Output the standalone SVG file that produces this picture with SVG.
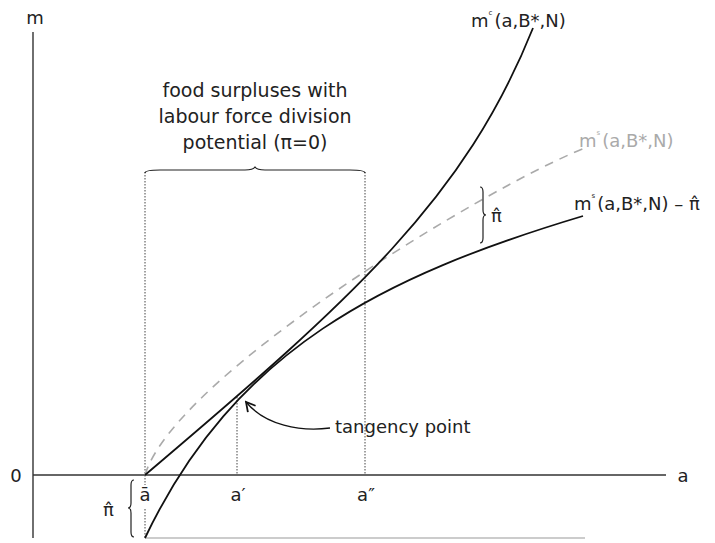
<svg xmlns="http://www.w3.org/2000/svg" width="715" height="543" viewBox="0 0 715 543">
<style>
text{font-family:"DejaVu Sans","Liberation Sans",Arial,sans-serif;fill:#222;}
.lbl{font-size:18px;}
.big{font-size:19px;}
.ax{stroke:#333;stroke-width:1.4;fill:none;}
.dot{stroke:#444;stroke-width:1;stroke-dasharray:1.5 1.5;fill:none;}
.cur{stroke:#111;stroke-width:1.8;fill:none;}
.dsh{stroke:#aaa;stroke-width:1.6;stroke-dasharray:9 7;fill:none;}
.br{stroke:#222;stroke-width:1.2;fill:none;}
.sup{font-size:7px;}
</style>
<defs>
<marker id="ah" markerWidth="12" markerHeight="12" refX="10" refY="6" orient="auto" markerUnits="userSpaceOnUse">
<path d="M1,1 L10,6 L1,11" fill="none" stroke="#111" stroke-width="1.8"/>
</marker>
</defs>
<g id="axes">
<line class="ax" x1="33" y1="32" x2="33" y2="538"/>
<line class="ax" x1="33" y1="475" x2="666" y2="475"/>
<line x1="145" y1="538" x2="585" y2="538" stroke="#bbb" stroke-width="1.4"/>
<text class="lbl" x="35" y="24" text-anchor="middle">m</text>
<text class="lbl" x="16" y="482" text-anchor="middle">0</text>
<text class="lbl" x="683" y="482" text-anchor="middle">a</text>
</g>
<g id="guides">
<line class="dot" x1="145" y1="172" x2="145" y2="485"/>
<line class="dot" x1="145" y1="509" x2="145" y2="538"/>
<line class="dot" x1="237" y1="397" x2="237" y2="475"/>
<line class="dot" x1="365" y1="172" x2="365" y2="475"/>
</g>
<g id="curves">
<path id="ms" class="dsh" d="M145,475 C175,375 490,185 585,148"/>
<path id="mc" class="cur" d="M145,475 C355,297 465,198 533,28"/>
<path id="msp" class="cur" d="M145,538 C235,349 383,276 583,216"/>
</g>
<g id="connectors">
<path d="M330,428 C300,432 265,425 246,402" fill="none" stroke="#111" stroke-width="1.3" marker-end="url(#ah)"/>
</g>
<g id="brace-top">
<path class="br" d="M145,173 Q145,170 160,170 L245,170 Q253,170 255,167 Q257,170 265,170 L350,170 Q365,170 365,173" stroke-width="2"/>
<text class="big" x="255" y="97" text-anchor="middle">food surpluses with</text>
<text class="big" x="255" y="123" text-anchor="middle">labour force division</text>
<text class="big" x="255" y="149" text-anchor="middle">potential (π=0)</text>
</g>
<g id="brace-right">
<path class="br" d="M480,187 Q483,187 483,192 L483,210 Q483,215 486,215 Q483,215 483,220 L483,238 Q483,243 480,243"/>
<text class="lbl" x="491" y="222">π̂</text>
</g>
<g id="brace-left">
<path class="br" d="M134,480 Q131,480 131,485 L131,503 Q131,508 128,508 Q131,508 131,513 L131,532 Q131,537 134,537"/>
<text class="lbl" x="103" y="516">π̂</text>
</g>
<g id="axis-labels">
<text class="lbl" x="145" y="501" text-anchor="middle">ā</text>
<text class="lbl" x="238" y="501" text-anchor="middle">a′</text>
<text class="lbl" x="366" y="501" text-anchor="middle">a″</text>
</g>
<g id="label-tangency">
<text class="lbl" x="335" y="433">tangency point</text>
</g>
<g id="label-mc">
<text class="lbl" x="471" y="27">m<tspan class="sup" dy="-12">c</tspan><tspan dy="12" dx="2">(a,B*,N)</tspan></text>
</g>
<g id="label-ms">
<text class="lbl" x="579" y="147" style="fill:#aaa">m<tspan class="sup" dy="-12">s</tspan><tspan dy="12" dx="2">(a,B*,N)</tspan></text>
</g>
<g id="label-msp">
<text class="lbl" x="574" y="210">m<tspan class="sup" dy="-12">s</tspan><tspan dy="12" dx="2">(a,B*,N) – π̂</tspan></text>
</g>
</svg>
